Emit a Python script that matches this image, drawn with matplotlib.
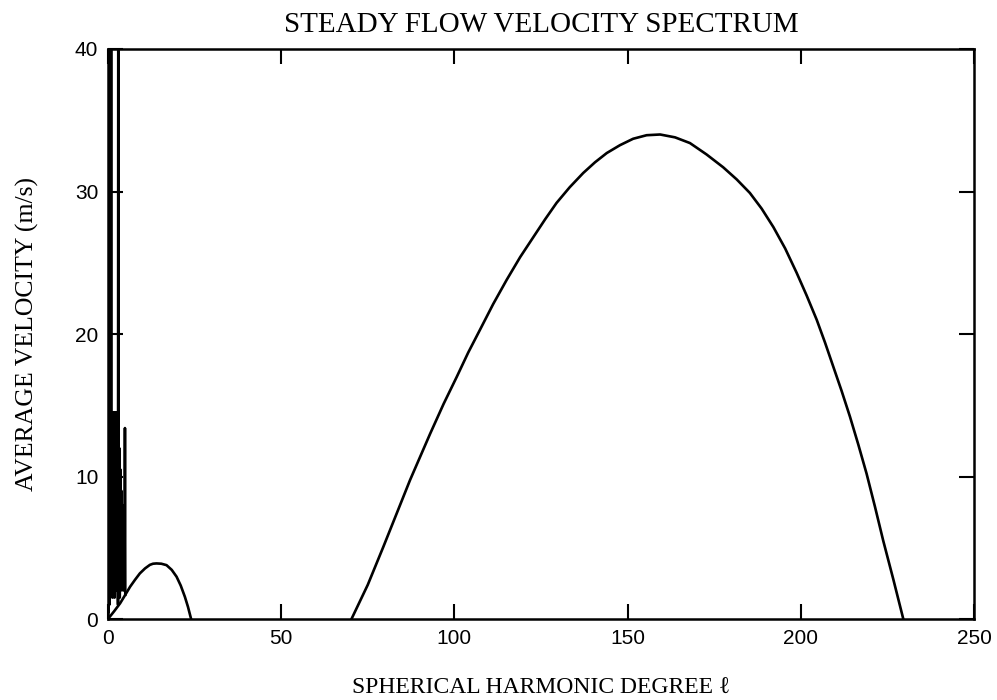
import matplotlib
matplotlib.use('Agg')
from matplotlib import pyplot as plt

# low-degree terms: dense zig-zag of individual coefficients
spike_l = [0.0, 0.1, 0.2, 0.3, 0.4, 0.5, 0.6, 0.7, 0.8, 0.9,
           1.0, 1.15, 1.3, 1.45, 1.6, 1.75, 1.9, 2.05, 2.2, 2.35, 2.5, 2.65, 2.8,
           2.9, 3.0, 3.1, 3.25, 3.4, 3.55, 3.7, 3.85, 4.0, 4.2, 4.4, 4.6, 4.8, 4.9, 5.0]
spike_v = [0.0, 60.0, 0.5, 60.0, 1.0, 60.0, 1.5, 60.0, 2.0, 60.0,
           2.5, 14.5, 1.5, 14.5, 2.0, 14.5, 1.5, 14.5, 2.5, 14.5, 2.0, 14.5, 3.0,
           1.0, 60.0, 2.0, 12.0, 1.5, 10.5, 2.0, 9.0, 2.5, 8.0, 2.0, 7.0, 3.0, 13.4, 1.7]

# small arch
small_l = [0.0, 1.8, 3.5, 5.0, 6.4, 7.8, 9.2, 10.7, 12.1, 13.0, 14.0, 15.4,
           16.9, 18.4, 19.8, 21.0, 22.2, 23.1, 24.0]
small_v = [0.0, 0.55, 1.1, 1.7, 2.27, 2.75, 3.2, 3.55, 3.8, 3.88, 3.9, 3.88,
           3.78, 3.45, 2.97, 2.35, 1.56, 0.85, 0.0]

# big arch
big_l = [70.3, 75.0, 79.5, 83.5, 87.2, 93.0, 96.9, 100.7, 104.0, 107.4, 111.2,
         115.1, 119.0, 122.8, 126.2, 129.5, 133.3, 137.2, 140.6, 144.0, 147.8,
         151.6, 155.5, 159.4, 163.7, 168.0, 172.8, 177.6, 181.5, 185.3, 188.7,
         192.1, 195.5, 198.8, 201.7, 204.6, 207.0, 209.4, 211.8, 214.2, 216.6,
         219.0, 221.4, 223.8, 226.7, 229.6]
big_v = [0.0, 2.4, 5.07, 7.5, 9.75, 13.0, 15.1, 17.0, 18.7, 20.3, 22.1,
         23.8, 25.4, 26.8, 28.05, 29.2, 30.3, 31.3, 32.05, 32.7, 33.25,
         33.7, 33.95, 34.0, 33.8, 33.4, 32.6, 31.7, 30.85, 29.9, 28.8,
         27.5, 26.0, 24.3, 22.7, 21.0, 19.4, 17.7, 16.0, 14.2, 12.25,
         10.2, 7.9, 5.5, 2.8, 0.0]

xt = [0, 50, 100, 150, 200, 250]
yt = [0, 10, 20, 30, 40]

serif = ['Liberation Serif', 'DejaVu Serif']

fig = plt.figure(figsize=(9.97, 7.0), dpi=100)
ax = fig.add_axes([0.1083, 0.1157, 0.8686, 0.8143])

ax.plot(spike_l, spike_v, color='black', lw=1.9)
ax.plot(small_l, small_v, color='black', lw=1.9, solid_joinstyle='round')
ax.plot(big_l, big_v, color='black', lw=1.9, solid_joinstyle='round')

ax.set_xlim(0, 250)
ax.set_ylim(0, 40)
ax.set_xticks(xt)
ax.set_yticks(yt)
ax.tick_params(direction='in', length=11, width=1.5, top=True, right=True,
               labelsize=15, pad=7)
for lab in ax.get_xticklabels() + ax.get_yticklabels():
    lab.set_family('Liberation Sans')
for s in ax.spines.values():
    s.set_linewidth(1.8)

ax.set_title('STEADY FLOW VELOCITY SPECTRUM', family=serif, fontsize=21, pad=12)
ax.set_xlabel('SPHERICAL HARMONIC DEGREE ℓ', family=serif, fontsize=17, labelpad=22)
ax.set_ylabel('AVERAGE VELOCITY (m/s)', family=serif, fontsize=18.5, labelpad=26)

plt.savefig('out.png', dpi=100)
